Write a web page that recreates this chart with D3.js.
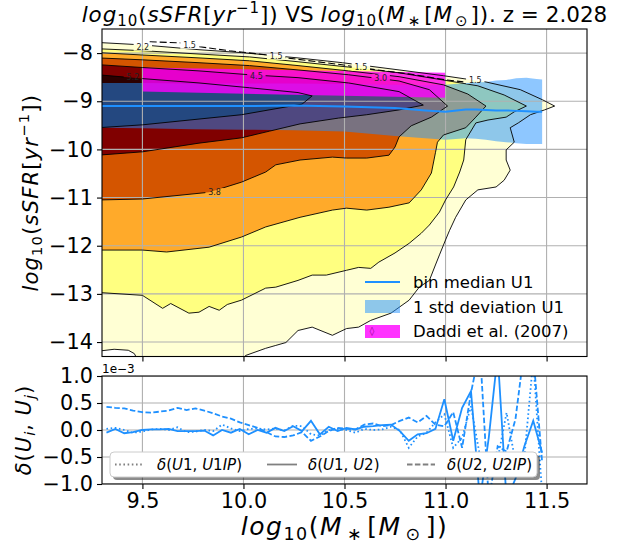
<!DOCTYPE html>
<html>
<head>
<meta charset="utf-8">
<script src="https://cdn.jsdelivr.net/npm/d3@7"></script>
<style>
  body { margin: 0; background: #fff; }
  svg { font-family: "DejaVu Sans", sans-serif; }
  text { white-space: pre; }
</style>
</head>
<body>
<div id="chart"></div>
<script>
// ---------------- data ----------------
var massTicks = [9.5, 10.0, 10.5, 11.0, 11.5];
var ssfrTicks = [-8, -9, -10, -11, -12, -13, -14];
var deltaTicks = [-1.0, -0.5, 0.0, 0.5, 1.0];

// filled density contours (outer to inner), [log M, log sSFR]
var levelValues = [1.5, 2.2, 3.0, 3.8, 4.5, 5.2];
var level1 = [[9.28,-7.78],[9.50,-7.83],[9.78,-7.93],[9.99,-7.99],[10.27,-8.10],[10.49,-8.20],[10.77,-8.35],[10.99,-8.47],[11.20,-8.60],[11.37,-8.76],[11.48,-8.97],[11.54,-9.10],
  [11.49,-9.18],[11.42,-9.28],[11.36,-9.45],[11.32,-9.55],[11.34,-9.85],[11.30,-10.01],[11.30,-10.22],[11.32,-10.43],[11.29,-10.64],[11.25,-10.78],[11.16,-10.84],[11.10,-11.05],
  [11.05,-11.41],[11.02,-11.68],[11.00,-11.88],[10.97,-12.19],[10.95,-12.40],[10.92,-12.72],[10.87,-12.86],[10.82,-13.13],[10.73,-13.40],[10.63,-13.55],[10.57,-13.69],[10.51,-13.72],
  [10.44,-13.86],[10.34,-13.69],[10.27,-13.76],[10.21,-14.01],[10.16,-14.07],[10.11,-14.13],[10.01,-14.28],[9.98,-14.49],[9.49,-14.49],[9.47,-14.32],[9.46,-14.24],[9.43,-14.17],[9.36,-14.15],[9.28,-14.19]];
var level2 = [[9.28,-7.91],[9.50,-7.95],[9.78,-8.02],[10.03,-8.08],[10.27,-8.18],[10.52,-8.29],[10.77,-8.41],[10.99,-8.56],[11.16,-8.68],[11.29,-8.87],[11.40,-9.10],
  [11.34,-9.22],[11.30,-9.33],[11.21,-9.39],[11.15,-9.45],[11.10,-9.80],[11.09,-10.22],[11.07,-10.47],[11.04,-10.78],[11.00,-11.05],[10.97,-11.30],[10.92,-11.57],[10.88,-11.74],
  [10.82,-11.95],[10.75,-12.15],[10.67,-12.34],[10.63,-12.47],[10.57,-12.45],[10.51,-12.51],[10.41,-12.61],[10.34,-12.61],[10.27,-12.72],[10.16,-12.86],[10.11,-12.88],[9.99,-13.13],
  [9.92,-13.22],[9.88,-13.34],[9.83,-13.26],[9.78,-13.38],[9.73,-13.40],[9.64,-13.20],[9.60,-13.30],[9.50,-13.03],[9.28,-12.97]];
var level3 = [[9.28,-7.99],[9.50,-8.04],[9.78,-8.10],[10.03,-8.16],[10.27,-8.26],[10.52,-8.37],[10.77,-8.49],[10.99,-8.66],[11.11,-8.85],[11.20,-9.10],
  [11.15,-9.33],[11.10,-9.55],[10.99,-9.70],[10.96,-9.85],[10.95,-10.07],[10.93,-10.49],[10.88,-10.84],[10.82,-11.11],[10.72,-11.20],[10.61,-11.26],[10.51,-11.22],[10.44,-11.26],
  [10.28,-11.41],[10.11,-11.61],[9.99,-11.82],[9.83,-12.03],[9.62,-12.13],[9.50,-12.09],[9.28,-12.09]];
var level4 = [[9.28,-8.10],[9.50,-8.14],[9.78,-8.20],[10.03,-8.26],[10.27,-8.35],[10.52,-8.45],[10.77,-8.58],[10.92,-8.76],[11.01,-9.10],
  [10.93,-9.33],[10.83,-9.51],[10.77,-9.74],[10.75,-9.95],[10.72,-10.12],[10.61,-10.18],[10.51,-10.18],[10.44,-10.16],[10.28,-10.22],[10.16,-10.32],[10.11,-10.47],[9.99,-10.68],
  [9.83,-10.89],[9.50,-11.03],[9.28,-11.05]];
var level5 = [[9.28,-8.24],[9.50,-8.30],[9.78,-8.37],[10.03,-8.45],[10.27,-8.51],[10.52,-8.62],[10.77,-8.80],[10.89,-9.08],
  [10.77,-9.18],[10.61,-9.28],[10.47,-9.35],[10.28,-9.47],[10.13,-9.62],[9.99,-9.76],[9.78,-9.87],[9.50,-10.05],[9.28,-10.12]];
var level6 = [[9.28,-8.45],[9.50,-8.53],[9.78,-8.62],[10.03,-8.72],[10.27,-8.82],[10.34,-8.89],
  [10.29,-9.06],[9.99,-9.28],[9.50,-9.49],[9.28,-9.55]];

// dashed outer contour of the comparison run
var dashMass = [9.536, 9.684, 9.783, 9.931, 10.113, 10.211, 10.487, 10.655, 10.817, 10.999, 11.088];
var dashSsfr = [-7.765, -7.786, -7.869, -7.952, -8.035, -8.098, -8.243, -8.347, -8.431, -8.556, -8.597];

// contour labels
var labelMass = [9.502, 9.733, 10.162, 10.581, 10.679, 11.147, 10.064, 9.453, 9.857];
var labelSsfr = [-7.869, -7.827, -8.056, -8.285, -8.514, -8.555, -8.472, -8.493, -10.885];
var labelText = ["2.2", "1.5", "1.5", "1.5", "3.0", "1.5", "4.5", "5.2", "3.8"];

// bin median and 1 sigma of U1
var binMass = [9.3, 9.5, 9.75, 10.0, 10.25, 10.5, 10.75, 10.9, 11.0, 11.1, 11.15, 11.2, 11.25, 11.3, 11.35, 11.4, 11.45, 11.478];
var binMedian = [-9.10, -9.10, -9.10, -9.10, -9.09, -9.11, -9.14, -9.19, -9.22, -9.17, -9.17, -9.18, -9.19, -9.19, -9.20, -9.21, -9.22, -9.22];
var binStdHigh = [-8.62, -8.62, -8.63, -8.63, -8.63, -8.64, -8.66, -8.67, -8.66, -8.62, -8.61, -8.60, -8.57, -8.56, -8.52, -8.51, -8.54, -8.55];
var binStdLow = [-9.55, -9.56, -9.58, -9.59, -9.60, -9.63, -9.72, -9.77, -9.80, -9.77, -9.78, -9.80, -9.83, -9.85, -9.87, -9.89, -9.89, -9.89];

// Daddi et al. (2007)
var daddiMass = [9.5, 11.0];
var daddiLow = [-8.80, -8.93];
var daddiHigh = [-8.30, -8.41];

// relative differences (units of 1e-3)
var deltaMass = [9.322, 9.366, 9.41, 9.454, 9.498, 9.542, 9.586, 9.63, 9.674, 9.718, 9.762, 9.806, 9.85, 9.894, 9.938, 9.982, 10.026, 10.07, 10.114, 10.158,
  10.202, 10.246, 10.29, 10.334, 10.378, 10.422, 10.466, 10.51, 10.554, 10.598, 10.642, 10.686, 10.73, 10.774, 10.818, 10.862, 10.906, 10.95, 10.994, 11.038,
  11.082, 11.126, 11.17, 11.214, 11.258, 11.302, 11.346, 11.39, 11.434, 11.478];
var deltaU1U1IP = [0.02, 0.04, 0.0, -0.05, -0.03, 0.01, 0.02, 0.0, 0.05, -0.04, -0.03, 0.0, -0.02, 0.10, 0.03, -0.02, 0.02, 0.03, 0.01, 0.03,
  -0.01, 0.08, 0.07, -0.08, -0.10, 0.0, 0.02, 0.0, -0.05, 0.02, 0.0, 0.01, 0.06, 0.0, -0.33, -0.12, -0.05, 0.14, 0.29, -0.33,
  -0.14, 0.44, -0.48, -0.42, -0.54, 0.32, -0.60, -0.50, 1.30, -1.20];
var deltaU1U2 = [-0.05, 0.02, -0.06, -0.04, 0.0, 0.01, 0.01, 0.02, -0.02, -0.02, -0.02, -0.01, -0.10, 0.0, -0.05, 0.02, -0.08, 0.0, -0.05, 0.04,
  -0.02, 0.07, -0.02, 0.17, -0.08, 0.06, -0.02, 0.04, 0.01, 0.06, 0.07, 0.09, 0.10, -0.02, -0.20, -0.08, -0.06, 0.02, 0.57, -0.20,
  0.41, 0.72, -1.30, -0.14, 1.40, -1.30, -0.90, -0.30, 0.17, -0.42];
var deltaU2U2IP = [0.43, 0.41, 0.40, 0.36, 0.33, 0.32, 0.34, 0.36, 0.41, 0.37, 0.40, 0.36, 0.31, 0.25, 0.21, 0.14, 0.09, 0.04, -0.04, -0.12,
  -0.13, -0.10, -0.04, -0.20, -0.12, -0.02, 0.04, 0.02, 0.01, 0.10, 0.12, 0.07, 0.09, 0.17, 0.23, 0.14, 0.26, 0.10, 0.07, 0.33,
  -0.33, 0.69, 1.50, -1.30, -0.30, -0.40, 0.20, 1.50, 1.40, -0.60];

// ---------------- layout ----------------
var W = 634, H = 543;
var margin = { left: 102, right: 47 };
var plotW = W - margin.left - margin.right;
var mainTop = 29, mainBottom = 356.5;
var subTop = 376, subBottom = 484;
var blue = "#1e90ff";
var tickFont = 20.8;

var svg = d3.select("#chart").append("svg")
  .attr("width", W).attr("height", H);

var x = d3.scaleLinear().domain([9.3, 11.7]).range([margin.left, margin.left + plotW]);
var y = d3.scaleLinear().domain([-14.3, -7.5]).range([mainBottom, mainTop]);
var yd = d3.scaleLinear().domain([-1, 1]).range([subBottom, subTop]);

var levelColor = d3.scaleOrdinal().domain(levelValues)
  .range(["#ffffd4", "#ffff80", "#ffaa2a", "#d45500", "#800000", "#2b0000"]);
var levels = [level1, level2, level3, level4, level5, level6];

var defs = svg.append("defs");
defs.append("clipPath").attr("id", "clipMain").append("rect")
  .attr("x", x.range()[0]).attr("y", mainTop).attr("width", plotW).attr("height", mainBottom - mainTop);
defs.append("clipPath").attr("id", "clipSub").append("rect")
  .attr("x", x.range()[0]).attr("y", subTop).attr("width", plotW).attr("height", subBottom - subTop);

// holes in the contour lines where the labels sit
var mask = defs.append("mask").attr("id", "lblMask").attr("maskUnits", "userSpaceOnUse")
  .attr("x", 0).attr("y", 0).attr("width", W).attr("height", H);
mask.append("rect").attr("width", W).attr("height", H).attr("fill", "white");
mask.selectAll("rect.hole").data(labelText).enter().append("rect")
  .attr("class", "hole")
  .attr("x", function (d, i) { return x(labelMass[i]) - d.length * 2.4 - 2; })
  .attr("y", function (d, i) { return y(labelSsfr[i]) - 4; })
  .attr("width", function (d) { return d.length * 4.8 + 4; })
  .attr("height", 8)
  .attr("fill", "black");

// helper for mathtext-like labels: [text, kind, extra space before]
function mathLabel(sel, parts, size, spacing) {
  var shift = 0;
  parts.forEach(function (p) {
    var kind = p[1], target = 0, fs = size, italic = kind === "i";
    if (kind === "sb" || kind === "sbi") { target = 0.2 * size; fs = 0.7 * size; italic = kind === "sbi"; }
    if (kind === "sp") { target = -0.42 * size; fs = 0.7 * size; }
    var t = sel.append("tspan")
      .attr("dy", target - shift)
      .attr("font-size", fs)
      .attr("font-style", italic ? "italic" : "normal")
      .attr("letter-spacing", kind === "t" ? 0 : spacing)
      .text(p[0]);
    if (p[2]) t.attr("dx", p[2]);
    shift = target;
  });
}

// ---------------- main panel ----------------
var main = svg.append("g").attr("clip-path", "url(#clipMain)");
var poly = d3.line().x(function (d) { return x(d[0]); }).y(function (d) { return y(d[1]); });

main.selectAll("path.fill").data(levels).enter().append("path")
  .attr("class", "fill")
  .attr("d", function (d) { return poly(d) + "Z"; })
  .attr("fill", function (d, i) { return levelColor(levelValues[i]); });

// 1 sigma band
var band = d3.area()
  .x(function (d, i) { return x(binMass[i]); })
  .y0(function (d, i) { return y(binStdLow[i]); })
  .y1(function (d, i) { return y(binStdHigh[i]); });
main.append("path").datum(binMass).attr("d", band)
  .attr("fill", blue).attr("fill-opacity", 0.5);

// Daddi et al. band
var daddi = d3.area()
  .x(function (d, i) { return x(daddiMass[i]); })
  .y0(function (d, i) { return y(daddiLow[i]); })
  .y1(function (d, i) { return y(daddiHigh[i]); });
main.append("path").datum(daddiMass).attr("d", daddi)
  .attr("fill", "#ff00ff").attr("fill-opacity", 0.8);

// grid
function grid(g, yScale, yTicks, top, bottom) {
  g.selectAll("line.gx").data(massTicks).enter().append("line")
    .attr("x1", function (d) { return x(d); }).attr("x2", function (d) { return x(d); })
    .attr("y1", top).attr("y2", bottom)
    .attr("stroke", "#b0b0b0").attr("stroke-width", 1.1);
  g.selectAll("line.gy").data(yTicks).enter().append("line")
    .attr("x1", x.range()[0]).attr("x2", x.range()[1])
    .attr("y1", function (d) { return yScale(d); }).attr("y2", function (d) { return yScale(d); })
    .attr("stroke", "#b0b0b0").attr("stroke-width", 1.1);
}
grid(main.append("g"), y, ssfrTicks, mainTop, mainBottom);

// contour lines
var lines = main.append("g").attr("mask", "url(#lblMask)");
lines.selectAll("path.edge").data(levels).enter().append("path")
  .attr("d", function (d) { return poly(d) + "Z"; })
  .attr("fill", "none").attr("stroke", "#000").attr("stroke-width", 0.9);
lines.append("path").datum(dashMass)
  .attr("d", d3.line().x(function (d) { return x(d); }).y(function (d, i) { return y(dashSsfr[i]); }))
  .attr("fill", "none").attr("stroke", "#000").attr("stroke-width", 1.1).attr("stroke-dasharray", "7,3");

main.selectAll("text.clab").data(labelText).enter().append("text")
  .attr("x", function (d, i) { return x(labelMass[i]); })
  .attr("y", function (d, i) { return y(labelSsfr[i]) + 3; })
  .attr("text-anchor", "middle").attr("font-size", 8).attr("fill", "#222")
  .text(function (d) { return d; });

// median
main.append("path").datum(binMass)
  .attr("d", d3.line().x(function (d) { return x(d); }).y(function (d, i) { return y(binMedian[i]); }))
  .attr("fill", "none").attr("stroke", blue).attr("stroke-width", 2);

// axes
function styleAxis(g) {
  g.select(".domain").remove();
  g.selectAll("line").attr("stroke", "#000").attr("stroke-width", 1.1);
  g.selectAll("text").attr("font-size", tickFont).attr("font-family", "DejaVu Sans").attr("fill", "#000");
}
svg.append("g").attr("transform", "translate(" + x.range()[0] + ",0)")
  .call(d3.axisLeft(y).tickValues(ssfrTicks).tickFormat(d3.format("d")).tickSize(5).tickPadding(4))
  .call(styleAxis);
svg.append("g").attr("transform", "translate(0," + mainBottom + ")")
  .call(d3.axisBottom(x).tickValues(massTicks).tickFormat("").tickSize(5))
  .call(styleAxis);
svg.append("rect").attr("x", x.range()[0]).attr("y", mainTop).attr("width", plotW).attr("height", mainBottom - mainTop)
  .attr("fill", "none").attr("stroke", "#000").attr("stroke-width", 1.1);

// legend (main)
var leg = svg.append("g").attr("font-size", 16.5);
leg.append("line").attr("x1", 365).attr("x2", 400).attr("y1", 282).attr("y2", 282).attr("stroke", blue).attr("stroke-width", 2);
leg.append("rect").attr("x", 365).attr("y", 300).attr("width", 35).attr("height", 13).attr("fill", blue).attr("fill-opacity", 0.5);
leg.append("rect").attr("x", 365).attr("y", 325).attr("width", 35).attr("height", 13).attr("fill", "#ff00ff").attr("fill-opacity", 0.8);
leg.append("text").attr("x", 372).attr("y", 334).attr("font-size", 9).attr("fill", "#8a008a").attr("text-anchor", "middle").text("\u25CA");
["bin median U1", "1 std deviation U1", "Daddi et al. (2007)"].forEach(function (t, i) {
  leg.append("text").attr("x", 413).attr("y", [282, 306.5, 331][i] + 6).text(t);
});

// ---------------- difference panel ----------------
var sub = svg.append("g").attr("clip-path", "url(#clipSub)");
grid(sub.append("g"), yd, deltaTicks, subTop, subBottom);

var deltaSeries = [
  { values: deltaU1U1IP, dash: "1.6,2.6", label: [["\u03B4", "i"], ["(", "r"], ["U", "i"], ["1", "r"], [", ", "r"], ["U", "i"], ["1", "r"], ["IP", "i"], [")", "r"]] },
  { values: deltaU1U2, dash: null, label: [["\u03B4", "i"], ["(", "r"], ["U", "i"], ["1", "r"], [", ", "r"], ["U", "i"], ["2", "r"], [")", "r"]] },
  { values: deltaU2U2IP, dash: "5.5,2.4", label: [["\u03B4", "i"], ["(", "r"], ["U", "i"], ["2", "r"], [", ", "r"], ["U", "i"], ["2", "r"], ["IP", "i"], [")", "r"]] }
];
deltaSeries.forEach(function (s) {
  sub.append("path").datum(deltaMass)
    .attr("d", d3.line().x(function (d) { return x(d); }).y(function (d, i) { return yd(s.values[i]); }))
    .attr("fill", "none").attr("stroke", blue).attr("stroke-width", 1.8)
    .attr("stroke-dasharray", s.dash);
});

svg.append("g").attr("transform", "translate(" + x.range()[0] + ",0)")
  .call(d3.axisLeft(yd).tickValues(deltaTicks).tickFormat(d3.format(".1f")).tickSize(5).tickPadding(4))
  .call(styleAxis);
svg.append("g").attr("transform", "translate(0," + subBottom + ")")
  .call(d3.axisBottom(x).tickValues(massTicks).tickFormat(d3.format(".1f")).tickSize(5).tickPadding(4))
  .call(styleAxis);
svg.append("rect").attr("x", x.range()[0]).attr("y", subTop).attr("width", plotW).attr("height", subBottom - subTop)
  .attr("fill", "none").attr("stroke", "#000").attr("stroke-width", 1.1);
svg.append("text").attr("x", x.range()[0]).attr("y", 373).attr("font-size", 12).text("1e\u22123");

// legend (difference panel) with shadow
var leg2 = svg.append("g");
leg2.append("rect").attr("x", 113).attr("y", 455).attr("width", 427).attr("height", 25).attr("rx", 4)
  .attr("fill", "#000").attr("fill-opacity", 0.45);
leg2.append("rect").attr("x", 110).attr("y", 452).attr("width", 427).attr("height", 25).attr("rx", 4)
  .attr("fill", "#fff").attr("stroke", "#ccc").attr("stroke-width", 1);
[[115, 142, 157], [267, 297, 308], [407, 435, 447]].forEach(function (p, i) {
  leg2.append("line").attr("x1", p[0]).attr("x2", p[1]).attr("y1", 464.5).attr("y2", 464.5)
    .attr("stroke", "#808080").attr("stroke-width", 1.8).attr("stroke-dasharray", deltaSeries[i].dash);
  var t = leg2.append("text").attr("x", p[2]).attr("y", 470);
  mathLabel(t, deltaSeries[i].label, 15, 0);
});

// ---------------- titles and axis labels ----------------
var sSFRparts = [["log", "i"], ["10", "sb"], ["(", "r"], ["sSFR", "i"], ["[", "r"], ["yr", "i"], ["\u22121", "sp"], ["])", "r"]];
var massParts = [["log", "i"], ["10", "sb"], ["(", "r"], ["M", "i"], ["\u2217", "sb", 2], ["[", "r", 3], ["M", "i"], ["\u2299", "sb", 2], ["])", "r", 2]];
var massPartsWide = [["log", "i"], ["10", "sb"], ["(", "r"], ["M", "i"], ["\u2217", "sb", 4], ["[", "r", 4], ["M", "i"], ["\u2299", "sb", 4], ["])", "r", 4]];

var title = svg.append("text").attr("x", (x.range()[0] + x.range()[1]) / 2).attr("y", 22).attr("text-anchor", "middle");
mathLabel(title, sSFRparts.concat([[" VS ", "t"]], massParts, [[". z = 2.028", "t"]]), 21.5, 0.9);

var ylab = svg.append("text").attr("text-anchor", "middle")
  .attr("transform", "translate(38," + (mainTop + mainBottom) / 2 + ") rotate(-90)");
mathLabel(ylab, sSFRparts, 21, 1.2);

var ydlab = svg.append("text").attr("text-anchor", "middle")
  .attr("transform", "translate(31," + (subTop + subBottom) / 2 + ") rotate(-90)");
mathLabel(ydlab, [["\u03B4", "i"], ["(", "r"], ["U", "i"], ["i", "sbi"], [", ", "r"], ["U", "i"], ["j", "sbi"], [")", "r"]], 21, 1);

var xlab = svg.append("text").attr("text-anchor", "middle")
  .attr("x", (x.range()[0] + x.range()[1]) / 2).attr("y", 535);
mathLabel(xlab, massPartsWide, 25, 1.5);
</script>
</body>
</html>
